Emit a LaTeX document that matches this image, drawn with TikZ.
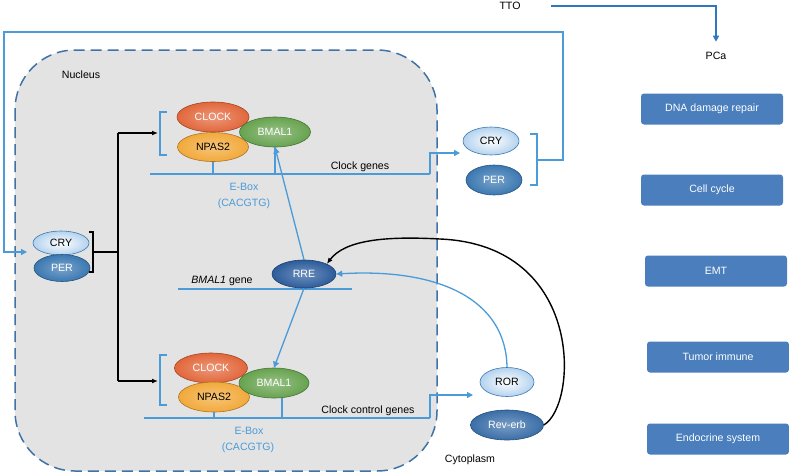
\documentclass[tikz,border=0pt]{standalone}
\usepackage{fontspec}
\setmainfont{Liberation Sans}
\usepackage{xcolor}
\definecolor{lineBlue}{HTML}{4A9BD8}
\definecolor{ttoBlue}{HTML}{2F78BE}
\definecolor{nucBorder}{HTML}{3F72A6}
\definecolor{nucFill}{HTML}{E3E3E3}
\definecolor{boxBlue}{HTML}{4A7EBC}
\definecolor{clockRed}{HTML}{E2673B}
\definecolor{npasOrange}{HTML}{F2A93A}
\definecolor{bmalGreen}{HTML}{67A34F}
\definecolor{cryLight}{HTML}{B3D2EE}
\definecolor{perBlue}{HTML}{3B78B1}
\definecolor{rreBlue}{HTML}{2C5C9C}
\definecolor{revBlue}{HTML}{3A6EA8}
\usetikzlibrary{arrows.meta,positioning,calc,shapes.geometric}

\begin{document}
\begin{tikzpicture}[x=1pt, y=-1pt,
  every node/.style={font=\fontsize{10.6}{12}\selectfont},
  protein/.style={ellipse, inner sep=0pt, minimum width=71, minimum height=30, line width=0.6pt, text=white},
  pc/.style={draw=#1!70!black, inner color=#1!68!white, outer color=#1},
  nucleus/.style={draw=nucBorder, fill=nucFill, line width=1.5pt, dash pattern=on 11pt off 6pt, rounded corners=60},
  outcome/.style={fill=boxBlue, rounded corners=3, text=white, minimum width=142, minimum height=31, inner sep=0pt},
  gene/.style={draw=lineBlue, line width=1.3pt},
  bluePath/.style={lineBlue, line width=1.3pt, -{Triangle[length=6pt,width=6pt]}},
  blackPath/.style={black, line width=1.4pt, -{Latex[length=6pt,width=5pt]}},
  boxText/.style={text=lineBlue},
]
\useasboundingbox (0,0) rectangle (789,474);

% nucleus and its labels
\draw[nucleus] (15,50) rectangle (437,471);
\node (nucleusLbl) at (81,75) {Nucleus};
\node (cytoLbl) at (470,460) {Cytoplasm};

% TTO -> PCa
\node (tto) at (510,6) {TTO};
\node (pca) at (716,56) {PCa};
\draw[ttoBlue, line width=1.6pt, -{Triangle[length=6pt,width=6pt]}] ([xshift=27pt]tto.east) -| ([yshift=7pt]pca.north);

% outcome boxes
\foreach \i/\txt/\x/\y in {1/DNA damage repair/712/109, 2/Cell cycle/712/190, 3/EMT/716/271,
                           4/Tumor immune/718/357, 5/Endocrine system/718/439} {
  \node[outcome] (out\i) at (\x,\y) {\txt};
}

% upper E-box complex (clock genes)
\node[protein, pc=clockRed, minimum width=72] (clockT) at (213,117) {CLOCK};
\node[protein, pc=npasOrange, text=black, minimum height=29] (npasT) at (213,147) {NPAS2};
\node[protein, pc=bmalGreen] (bmalT) at (275,132) {BMAL1};
\draw[gene] (150,174) -- (430,174);
\draw[gene] (npasT.south) -- (npasT.south |- 0,174);
\draw[gene] (bmalT.south) -- (bmalT.south |- 0,174);
\draw[lineBlue, line width=1.3pt] (167,112) -- (160,112) -- (160,155) -- (167,155);
\node (clockGenes) at (360,167) {Clock genes};
\node[boxText] (eboxT) at (244,187) {E-Box};
\node[boxText] (seqT) at (244,204) {(CACGTG)};

% lower E-box complex (clock control genes)
\node[protein, pc=clockRed, minimum width=73] (clockB) at (211,368) {CLOCK};
\node[protein, pc=npasOrange, text=black] (npasB) at (214,397) {NPAS2};
\node[protein, pc=bmalGreen, minimum width=70] (bmalB) at (274,383) {BMAL1};
\draw[gene] (144,418) -- (430,418);
\draw[gene] (npasB.south) -- (npasB.south |- 0,418);
\draw[gene] (282,398) -- (282,418);
\draw[lineBlue, line width=1.3pt] (167,355) -- (160,355) -- (160,405) -- (167,405);
\node (ctrlGenes) at (368,411) {Clock control genes};
\node[boxText] (eboxB) at (249,431) {E-Box};
\node[boxText] (seqB) at (248,448) {(CACGTG)};

% BMAL1 gene with RRE
\draw[gene] (178,289) -- (352,289);
\node[protein, pc=rreBlue, minimum width=64, minimum height=28] (rre) at (304,274) {RRE};
\node (bmalGene) at (222,281) {\textit{BMAL1} gene};
\draw[bluePath] (rre.north) -- (bmalT.south);
\draw[bluePath] (rre.south) -- (bmalB.north);

% CRY/PER inside the nucleus
\node[protein, pc=cryLight, draw=perBlue, inner color=white, text=black, minimum width=56, minimum height=24] (cryL) at (61,243) {CRY};
\node[protein, pc=perBlue, minimum width=56, minimum height=27] (perL) at (62,268) {PER};
\draw[line width=1.3pt] (89,232) -- (93,232) -- (93,272) -- (89,272);
\coordinate (join) at (118,252);
\draw[line width=1.4pt] (93,252) -- (join);
\draw[line width=1.4pt] (118,133) -- (118,381);
\draw[blackPath] (118,133) -- (158,133);
\draw[blackPath] (118,381) -- (158,381);

% CRY/PER in the cytoplasm
\node[protein, pc=cryLight, draw=perBlue, inner color=white, text=black, minimum width=56, minimum height=28] (cryR) at (491,141) {CRY};
\node[protein, pc=perBlue, minimum width=56] (perR) at (494,180) {PER};
\coordinate (toCry) at (460,153);
\draw[bluePath] (430,174) |- (toCry);
\draw[lineBlue, line width=1.3pt] (530,134) -- (537,134) -- (537,185) -- (530,185);
% negative feedback back into the nucleus
\coordinate (toCryL) at (27,252);
\draw[bluePath] (537,160) -- (563,160) -- (563,32) -- (4,32) -- (4,252) -- (toCryL);

% ROR and Rev-erb
\node[protein, pc=cryLight, draw=perBlue, inner color=white, text=black, minimum width=54, minimum height=29] (ror) at (507,382) {ROR};
\node[protein, pc=revBlue, minimum width=73] (reverb) at (507,425) {Rev-erb};
\coordinate (toRor) at (473,395);
\draw[bluePath] (430,418) |- (toRor);
\draw[bluePath] (ror.north) .. controls (506,300) and (440,268) .. (rre.east);
\draw[blackPath] (reverb.east) .. controls (578,405) and (585,245) .. (440,239)
                              .. controls (385,236) and (345,240) .. (rre.north east);

\end{tikzpicture}
\end{document}
